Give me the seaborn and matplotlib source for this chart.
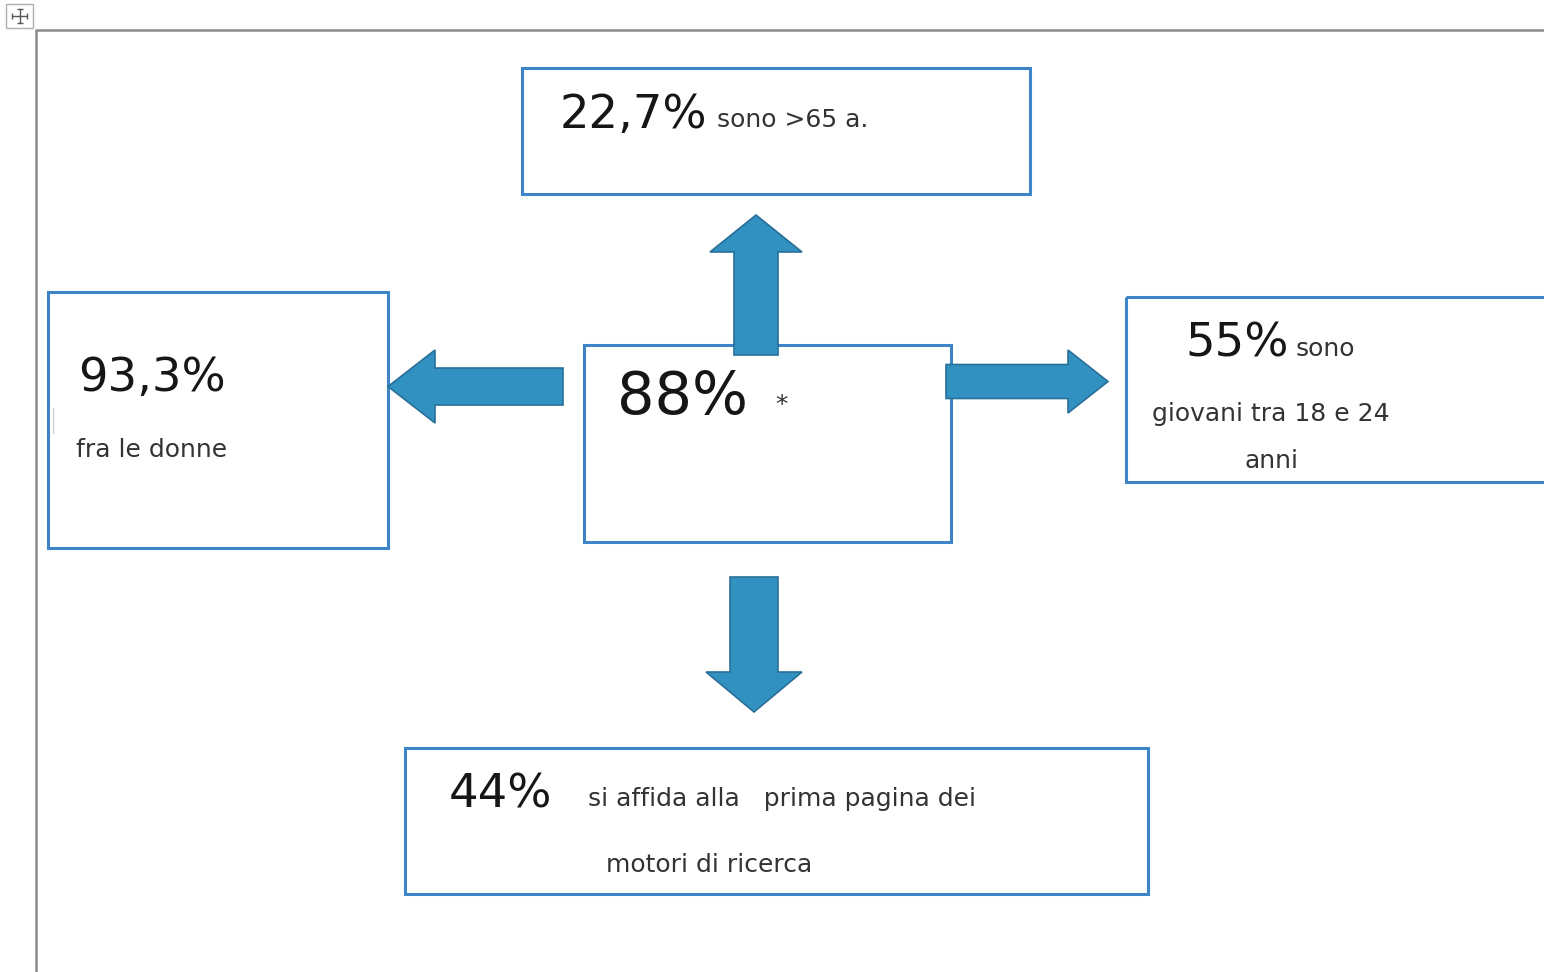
import seaborn as sns
import matplotlib.pyplot as plt
from matplotlib.patches import Rectangle, FancyArrow

# the numbers and the words of the diagram
centre_value = "88%"
centre_note = "*"
top_value = "22,7%"
top_note = "sono >65 a."
left_value = "93,3%"
left_note = "fra le donne"
right_value = "55%"
right_note = ["sono", "giovani tra 18 e 24", "anni"]
bottom_value = "44%"
bottom_note = ["si affida alla   prima pagina dei", "motori di ricerca"]

sns.set_style("white")
plt.rcParams['font.family'] = ['DejaVu Sans']

box_col = "#3d85c6"
arrow_col = "#3191c1"
arrow_edge = "#2a6f98"
txt_col = "#161616"
small_col = "#333333"

fig = plt.figure(figsize=(15.44, 9.72), dpi=100)
ax = fig.add_axes([0, 0, 1, 1])
ax.set_xlim(0, 1544)
ax.set_ylim(972, 0)
ax.axis("off")

# page frame and the little move handle in the corner
ax.plot([35, 1544], [30, 30], color="#8c8c8c", lw=1.8, solid_capstyle="butt")
ax.plot([36, 36], [30, 972], color="#8c8c8c", lw=1.8, solid_capstyle="butt")
ax.add_patch(Rectangle((6, 4), 27, 24, fill=False, ec="#b0b0b0", lw=1))
ax.plot([12, 27], [16, 16], color="#555555", lw=1)
ax.plot([19.5, 19.5], [9, 23], color="#555555", lw=1)
ax.plot([12, 27], [16, 16], ls="none", marker="|", color="#555555", ms=4)
ax.plot([19.5, 19.5], [9, 23], ls="none", marker="_", color="#555555", ms=4)

# boxes: (x0, y0, x1, y1)
boxes = [(522, 68, 1030, 194), (48, 292, 388, 548), (584, 345, 951, 542),
         (1126, 297, 1546, 482), (405, 748, 1148, 894)]
for x0, y0, x1, y1 in boxes:
    ax.add_patch(Rectangle((x0, y0), x1 - x0, y1 - y0, fill=False,
                           ec=box_col, lw=2.2, zorder=2))

# arrows
arrow_kw = dict(length_includes_head=True, fc=arrow_col, ec=arrow_edge,
                lw=1.2, zorder=3)
ax.add_patch(FancyArrow(756, 355, 0, -140, width=44, head_width=92,
                        head_length=37, **arrow_kw))
ax.add_patch(FancyArrow(563, 386.5, -175, 0, width=37, head_width=73,
                        head_length=47, **arrow_kw))
ax.add_patch(FancyArrow(946, 381.5, 162, 0, width=34, head_width=63,
                        head_length=40, **arrow_kw))
ax.add_patch(FancyArrow(754, 577, 0, 135, width=48, head_width=96,
                        head_length=40, **arrow_kw))

big = dict(color=txt_col, ha="left", va="baseline", fontsize=33.5)
small = dict(color=small_col, ha="left", va="baseline", fontsize=18)

ax.text(560, 128, top_value, **big)
ax.text(717, 127, top_note, **small)

ax.text(78, 391, left_value, **big)
ax.text(76, 457, left_note, **small)
ax.plot([53, 53], [408, 433], color="#d0d0d0", lw=1)

ax.text(617, 414, centre_value, color=txt_col, ha="left", va="baseline",
        fontsize=42.5)
ax.text(775, 412, centre_note, color=small_col, ha="left", va="baseline",
        fontsize=18)

ax.text(1185, 356, right_value, **big)
ax.text(1296, 356, right_note[0], **small)
ax.text(1152, 421, right_note[1], **small)
ax.text(1244, 468, right_note[2], **small)

ax.text(449, 807, bottom_value, **big)
ax.text(588, 806, bottom_note[0], **small)
ax.text(606, 872, bottom_note[1], **small)

fig.savefig("out.png", dpi=100, facecolor="white")
